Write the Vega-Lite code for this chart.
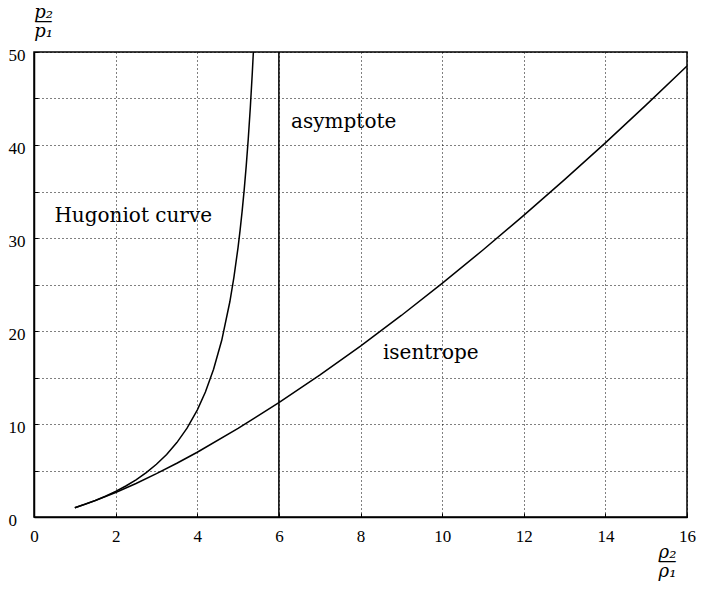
{
  "$schema": "https://vega.github.io/schema/vega-lite/v6.json",
  "width": 653,
  "height": 465,
  "autosize": {"type": "none"},
  "padding": {"left": 34, "top": 52, "right": 17, "bottom": 73},
  "background": "white",
  "config": {
    "view": {"stroke": "black", "strokeWidth": 1.5},
    "axis": {
      "grid": true,
      "gridColor": "black",
      "gridOpacity": 1,
      "gridWidth": 1,
      "gridDash": [1, 3],
      "tickColor": "black",
      "tickSize": -4,
      "tickWidth": 1,
      "domainColor": "black",
      "domainWidth": 1.5,
      "labelFont": "Liberation Serif",
      "labelFontSize": 17,
      "labelColor": "black",
      "labelFlush": false,
      "titleFont": "DejaVu Serif",
      "titleFontStyle": "italic",
      "titleFontWeight": "normal",
      "titleFontSize": 18,
      "titleColor": "black",
      "titleLineHeight": 9.5
    }
  },
  "datasets": {
    "curves": [
      {"curve": "hugoniot", "x": 1, "y": 1},
      {"curve": "hugoniot", "x": 1.25, "y": 1.368},
      {"curve": "hugoniot", "x": 1.5, "y": 1.778},
      {"curve": "hugoniot", "x": 1.75, "y": 2.235},
      {"curve": "hugoniot", "x": 2, "y": 2.75},
      {"curve": "hugoniot", "x": 2.25, "y": 3.333},
      {"curve": "hugoniot", "x": 2.5, "y": 4},
      {"curve": "hugoniot", "x": 2.75, "y": 4.769},
      {"curve": "hugoniot", "x": 3, "y": 5.667},
      {"curve": "hugoniot", "x": 3.25, "y": 6.727},
      {"curve": "hugoniot", "x": 3.5, "y": 8},
      {"curve": "hugoniot", "x": 3.75, "y": 9.556},
      {"curve": "hugoniot", "x": 4, "y": 11.5},
      {"curve": "hugoniot", "x": 4.2, "y": 13.44},
      {"curve": "hugoniot", "x": 4.4, "y": 15.88},
      {"curve": "hugoniot", "x": 4.6, "y": 19},
      {"curve": "hugoniot", "x": 4.8, "y": 23.17},
      {"curve": "hugoniot", "x": 4.9, "y": 25.82},
      {"curve": "hugoniot", "x": 5, "y": 29},
      {"curve": "hugoniot", "x": 5.05, "y": 30.84},
      {"curve": "hugoniot", "x": 5.1, "y": 32.89},
      {"curve": "hugoniot", "x": 5.15, "y": 35.18},
      {"curve": "hugoniot", "x": 5.2, "y": 37.75},
      {"curve": "hugoniot", "x": 5.25, "y": 40.67},
      {"curve": "hugoniot", "x": 5.3, "y": 44},
      {"curve": "hugoniot", "x": 5.35, "y": 47.85},
      {"curve": "hugoniot", "x": 5.375, "y": 50},
      {"curve": "isentrope", "x": 1, "y": 1},
      {"curve": "isentrope", "x": 1.5, "y": 1.764},
      {"curve": "isentrope", "x": 2, "y": 2.639},
      {"curve": "isentrope", "x": 2.5, "y": 3.607},
      {"curve": "isentrope", "x": 3, "y": 4.656},
      {"curve": "isentrope", "x": 3.5, "y": 5.777},
      {"curve": "isentrope", "x": 4, "y": 6.964},
      {"curve": "isentrope", "x": 5, "y": 9.518},
      {"curve": "isentrope", "x": 6, "y": 12.29},
      {"curve": "isentrope", "x": 7, "y": 15.25},
      {"curve": "isentrope", "x": 8, "y": 18.38},
      {"curve": "isentrope", "x": 9, "y": 21.67},
      {"curve": "isentrope", "x": 10, "y": 25.12},
      {"curve": "isentrope", "x": 11, "y": 28.71},
      {"curve": "isentrope", "x": 12, "y": 32.43},
      {"curve": "isentrope", "x": 13, "y": 36.27},
      {"curve": "isentrope", "x": 14, "y": 40.23},
      {"curve": "isentrope", "x": 15, "y": 44.31},
      {"curve": "isentrope", "x": 16, "y": 48.5}
    ],
    "asymptote": [{"x": 6}],
    "notes": [
      {"x": 0.5, "y": 31.75, "label": "Hugoniot curve"},
      {"x": 6.3, "y": 41.8, "label": "asymptote"},
      {"x": 8.55, "y": 17.0, "label": "isentrope"}
    ]
  },
  "layer": [
    {
      "data": {"name": "curves"},
      "mark": {"type": "line", "color": "black", "strokeWidth": 1.5},
      "encoding": {
        "x": {
          "field": "x",
          "type": "quantitative",
          "scale": {"domain": [0, 16], "nice": false},
          "axis": {
            "values": [0, 2, 4, 6, 8, 10, 12, 14, 16],
            "labelBaseline": "alphabetic",
            "labelPadding": 28,
            "title": ["ρ₂", "—", "ρ₁"],
            "titleAngle": 0,
            "titleAlign": "center",
            "titleBaseline": "alphabetic",
            "titleX": 633,
            "titleY": 40
          }
        },
        "y": {
          "field": "y",
          "type": "quantitative",
          "scale": {"domain": [0, 50], "nice": false},
          "axis": {
            "values": [0, 5, 10, 15, 20, 25, 30, 35, 40, 45, 50],
            "labelExpr": "datum.value % 10 === 0 ? datum.label : ''",
            "labelAlign": "left",
            "labelBaseline": "middle",
            "labelPadding": 30,
            "labelOffset": 3,
            "title": ["p₂", "—", "p₁"],
            "titleAngle": 0,
            "titleAlign": "center",
            "titleBaseline": "alphabetic",
            "titleX": 9,
            "titleY": -35
          }
        },
        "detail": {"field": "curve"}
      }
    },
    {
      "data": {"name": "asymptote"},
      "mark": {"type": "rule", "color": "black", "strokeWidth": 1.5},
      "encoding": {
        "x": {"field": "x", "type": "quantitative"}
      }
    },
    {
      "data": {"name": "notes"},
      "mark": {
        "type": "text",
        "font": "DejaVu Serif",
        "fontSize": 20,
        "align": "left",
        "baseline": "alphabetic",
        "color": "black"
      },
      "encoding": {
        "x": {"field": "x", "type": "quantitative"},
        "y": {"field": "y", "type": "quantitative"},
        "text": {"field": "label"}
      }
    }
  ]
}
